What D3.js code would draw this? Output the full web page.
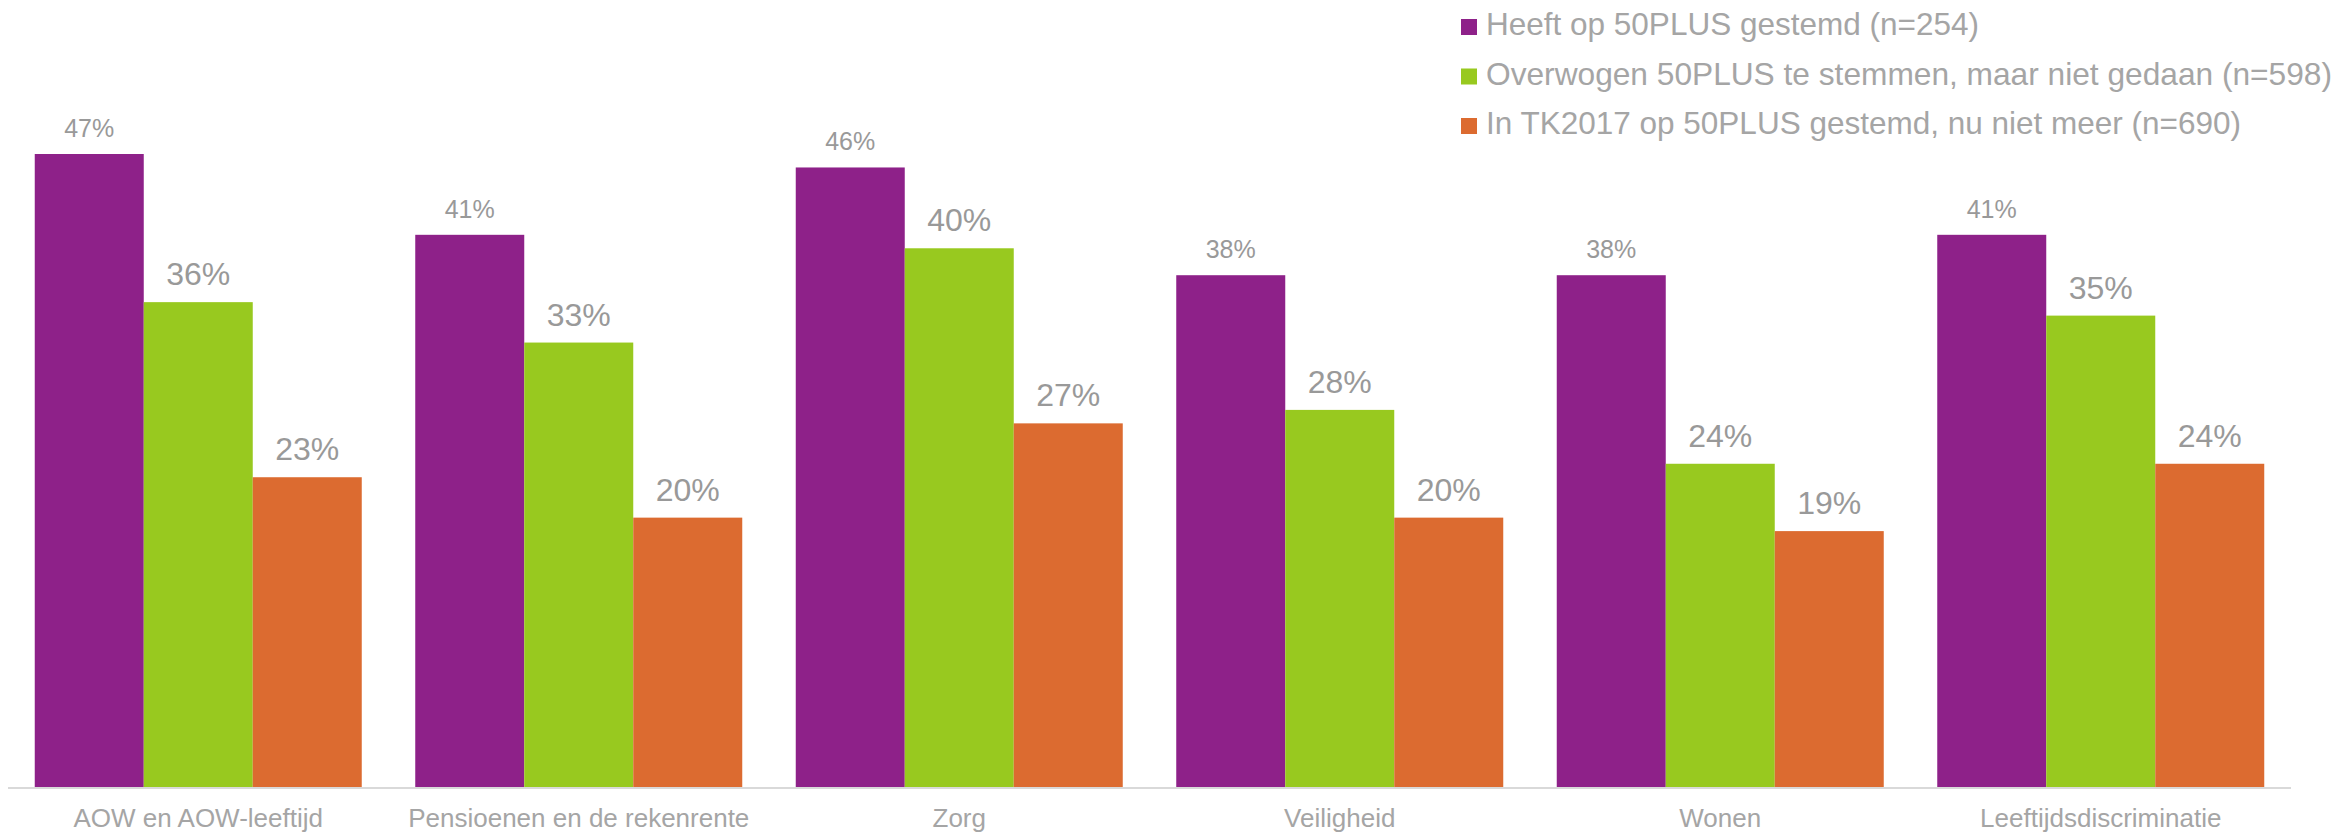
<!DOCTYPE html>
<html>
<head>
<meta charset="utf-8">
<script src="https://cdn.jsdelivr.net/npm/d3@7"></script>
<style>
  html, body { margin: 0; padding: 0; background: #ffffff; }
  svg { display: block; font-family: "Liberation Sans", Arial, sans-serif; }
</style>
</head>
<body>
<svg id="chart" width="2341" height="834"></svg>
<script>
const categories = ["AOW en AOW-leeftijd", "Pensioenen en de rekenrente", "Zorg", "Veiligheid", "Wonen", "Leeftijdsdiscriminatie"];
const seriesNames = ["Heeft op 50PLUS gestemd (n=254)", "Overwogen 50PLUS te stemmen, maar niet gedaan (n=598)", "In TK2017 op 50PLUS gestemd, nu niet meer (n=690)"];
const seriesColors = ["#8E2189", "#98C91F", "#DC6B30"];
const heeftGestemd = [47, 41, 46, 38, 38, 41];
const overwogen = [36, 33, 40, 28, 24, 35];
const nietMeer = [23, 20, 27, 20, 19, 24];
const seriesValues = [heeftGestemd, overwogen, nietMeer];

const svg = d3.select("#chart");
const axisLeft = 8, axisRight = 2291, baseY = 787;

const x0 = d3.scaleBand().domain(categories).range([axisLeft, axisRight]).paddingInner(0.1406).paddingOuter(0.0703);
const x1 = d3.scaleBand().domain([0, 1, 2]).range([0, x0.bandwidth()]).padding(0);
const y = d3.scaleLinear().domain([0, 47]).range([baseY, 154]);

const data = [];
categories.forEach((c, i) => {
  seriesValues.forEach((vals, s) => data.push({cat: c, s: s, v: vals[i]}));
});

// bars
svg.append("g").selectAll("rect").data(data).join("rect")
  .attr("x", d => x0(d.cat) + x1(d.s))
  .attr("y", d => y(d.v))
  .attr("width", x1.bandwidth())
  .attr("height", d => baseY - y(d.v))
  .attr("fill", d => seriesColors[d.s]);

// axis
const xAxis = d3.axisBottom(x0).tickSize(0).tickPadding(0);
const gx = svg.append("g").attr("transform", `translate(0,${baseY})`).call(xAxis);
gx.select(".domain").attr("stroke", "#d9d9d9").attr("stroke-width", 2).attr("d", `M${axisLeft},1H${axisRight}`);
gx.selectAll(".tick text")
  .attr("y", 40).attr("dy", 0)
  .attr("fill", "#a5a5a5")
  .attr("font-size", 26)
  .attr("font-family", "Liberation Sans, Arial, sans-serif");

// value labels
svg.append("g").selectAll("text").data(data).join("text")
  .attr("x", d => x0(d.cat) + x1(d.s) + x1.bandwidth() / 2)
  .attr("y", d => y(d.v) - 17)
  .attr("text-anchor", "middle")
  .attr("fill", "#999999")
  .attr("font-size", d => d.s === 0 ? 25 : 32)
  .text(d => d.v + "%");

// legend
const legend = svg.append("g");
seriesNames.forEach((name, i) => {
  const by = 35 + i * 49.5;
  legend.append("rect").attr("x", 1461).attr("y", by - 16).attr("width", 16).attr("height", 16).attr("fill", seriesColors[i]);
  const t = legend.append("text").attr("x", 1486).attr("y", by).attr("fill", "#a5a5a5").attr("font-size", 31.5).text(name);
  if (i === 1) t.attr("textLength", 846).attr("lengthAdjust", "spacingAndGlyphs");
});
</script>
</body>
</html>
